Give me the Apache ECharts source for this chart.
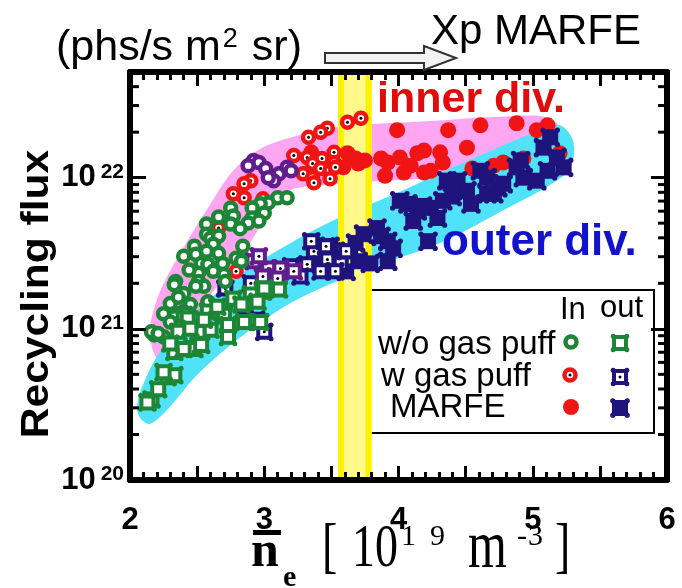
<!DOCTYPE html>
<html><head><meta charset="utf-8">
<script src="https://cdn.jsdelivr.net/npm/echarts@6/dist/echarts.min.js"></script>
<style>html,body{margin:0;padding:0;background:#fff}#c{width:682px;height:588px}</style>
</head><body><div id="c"></div>
<script>
// ---------- axes ----------
const X_MIN = 2, X_MAX = 6, Y_MIN = 1e20, Y_MAX = 5e22;
const xTickLabels = [2, 3, 4, 5, 6];
const yDecades = [1e20, 1e21, 1e22];
const yMinorMult = [2, 3, 4, 5, 6, 7, 8, 9];

// ---------- highlighted regions (outline in data coords) ----------
const pinkBand = [[2.201,6.41e20],[2.149,9.52e20],[2.194,1.50e21],[2.283,2.27e21],[2.432,3.87e21],[2.581,6.29e21],[2.760,1.09e22],[2.953,1.52e22],[3.229,1.88e22],[3.542,2.16e22],[4.235,2.37e22],[4.831,2.55e22],[5.091,2.52e22],[5.203,2.13e22],[5.188,1.52e22],[4.980,1.27e22],[4.607,1.09e22],[4.235,9.93e21],[3.542,9.07e21],[3.192,8.28e21],[3.058,6.59e21],[2.931,4.17e21],[2.782,2.64e21],[2.581,1.60e21],[2.410,9.82e20],[2.298,7.03e20]];
const cyanBand = [[2.052,2.90e20],[2.112,4.59e20],[2.261,7.81e20],[2.521,1.37e21],[2.782,2.17e21],[3.043,3.08e21],[3.490,5.09e21],[3.989,7.91e21],[4.480,1.25e22],[4.980,1.94e22],[5.188,2.23e22],[5.292,1.83e22],[5.300,1.31e22],[5.218,1.01e22],[4.756,5.92e21],[4.309,3.69e21],[3.788,2.52e21],[3.266,1.60e21],[2.894,9.82e20],[2.521,5.18e20],[2.261,2.82e20],[2.134,2.35e20]];
const xpMarfeBand = [3.55, 3.80];

// ---------- data ----------
const woPuffIn = [[3.10,7.36e21],[3.17,7.36e21],[3.03,6.81e21],[2.97,6.71e21],[2.75,6.31e21],[2.91,6.31e21],[3.00,5.84e21],[2.77,5.58e21],[2.91,5.41e21],[2.88,5.01e21],[2.96,5.17e21],[2.75,4.94e21],[2.57,4.94e21],[2.57,4.23e21],[2.60,3.98e21],[2.66,4.11e21],[2.48,3.52e21],[2.62,3.63e21],[2.57,3.26e21],[2.40,3.02e21],[2.49,3.11e21],[2.66,3.16e21],[2.84,3.52e21],[2.53,2.71e21],[2.58,2.67e21],[2.69,2.71e21],[2.79,2.93e21],[2.62,2.40e21],[2.51,2.33e21],[2.70,2.29e21],[2.34,2.06e21],[2.71,2.06e21],[2.51,2.06e21],[2.33,1.96e21],[2.30,1.47e21],[2.40,1.71e21],[2.45,1.45e21],[2.55,1.91e21],[2.58,1.51e21],[2.33,1.20e21],[2.40,1.30e21],[2.25,1.26e21],[2.18,9.12e20],[2.25,8.85e20],[2.30,1.11e21],[2.16,9.55e20],[2.49,1.91e21],[2.83,2.80e21],[2.44,2.45e21],[2.36,1.62e21],[2.21,9.3e20],[2.66,5.5e21],[2.82,4.6e21]];
const woPuffOut = [[2.99,1.76e21],[3.00,1.85e21],[2.77,1.58e21],[2.90,1.69e21],[2.83,1.45e21],[2.95,1.51e21],[2.58,1.30e21],[2.70,1.24e21],[2.40,1.24e21],[2.43,1.17e21],[2.60,9.85e20],[2.73,8.85e20],[2.85,1.11e21],[2.97,1.11e21],[2.33,7.03e20],[2.36,9.55e20],[2.48,7.36e20],[2.53,7.82e20],[2.28,4.79e20],[2.33,4.94e20],[2.25,5.17e20],[2.16,3.41e20],[2.13,3.26e20],[2.21,3.98e20],[2.73,1.06e21],[2.51,9.55e20],[2.40,7.36e20],[3.11,1.82e21],[2.65,1.40e21],[2.45,1.00e21],[2.30,8.0e20],[2.55,1.15e21]];
const puffIn = [[3.72,2.47e22],[3.62,2.33e22],[3.47,2.12e22],[3.42,2.00e22],[3.33,1.85e22],[3.22,1.40e22],[3.32,1.36e22],[3.52,1.47e22],[3.43,1.34e22],[3.36,1.24e22],[3.52,1.26e22],[3.29,1.06e22],[3.36,1.00e22],[3.42,1.15e22],[3.49,1.11e22],[3.37,9.26e21],[3.49,9.85e21],[2.90,9.55e21],[2.85,9.12e21],[2.77,7.82e21],[2.85,7.36e21],[2.99,7.24e21],[2.66,4.64e21],[2.79,2.40e21],[3.53,1.17e22]];
const puffInPurple = [[2.92,1.30e22],[2.96,1.26e22],[3.01,1.15e22],[3.11,1.06e22],[3.17,1.17e22],[3.20,1.11e22],[3.07,9.55e21],[3.03,1.00e22],[2.88,1.20e22]];
const puffOut = [[3.37,3.26e21],[3.32,2.67e21],[3.47,2.88e21],[3.42,2.40e21],[3.27,2.22e21],[3.57,2.71e21],[3.61,3.26e21],[3.53,2.40e21],[3.20,2.59e21],[3.00,9.55e20],[2.94,1.15e21],[2.86,1.40e21],[2.71,1.85e21],[2.90,2.00e21],[3.46,3.52e21],[3.35,3.80e21]];
const puffOutPurple = [[2.92,2.80e21],[3.03,2.51e21],[3.12,2.51e21],[3.22,2.40e21],[3.10,2.15e21],[2.96,3.02e21],[2.99,2.22e21]];
const marfeIn = [[3.99,2.06e22],[4.37,2.06e22],[4.61,2.22e22],[4.88,2.29e22],[5.11,2.22e22],[5.03,2.06e22],[3.35,1.47e22],[3.62,1.45e22],[3.68,1.34e22],[3.70,1.24e22],[3.87,1.34e22],[3.92,1.26e22],[4.01,1.36e22],[4.14,1.45e22],[4.19,1.51e22],[4.31,1.47e22],[4.33,1.26e22],[4.51,1.58e22],[3.90,1.03e22],[4.04,1.08e22],[4.19,1.08e22],[4.24,1.11e22],[3.59,1.17e22],[4.55,1.15e22],[4.71,1.20e22],[4.78,1.26e22],[4.93,1.34e22],[5.20,1.45e22],[3.75,1.30e22],[4.09,1.20e22]];
const marfeOut = [[3.64,3.26e21],[3.74,4.23e21],[3.70,2.80e21],[3.55,2.93e21],[3.84,4.64e21],[3.92,3.80e21],[3.96,3.41e21],[3.92,2.80e21],[4.01,7.03e21],[4.14,6.03e21],[4.24,6.31e21],[4.33,7.03e21],[4.36,9.55e21],[4.22,3.80e21],[4.54,6.71e21],[4.61,1.11e22],[4.66,1.00e22],[4.66,7.82e21],[4.74,8.58e21],[4.78,9.12e21],[4.88,1.17e22],[4.93,1.00e22],[5.08,1.58e22],[5.13,1.85e22],[5.18,1.36e22],[5.23,1.17e22],[5.11,1.11e22],[5.03,9.55e21],[4.07,6.71e21],[4.29,5.41e21],[4.11,5.17e21],[4.91,1.30e22],[4.44,9.55e21],[4.71,7.82e21],[4.51,8.19e21],[3.49,3.52e21],[3.61,2.40e21],[3.79,2.71e21],[3.42,3.02e21],[3.87,4.1e21],[4.18,6.5e21],[4.40,7.5e21],[3.68,3.7e21]];

// ---------- styling ----------
const GREEN = '#1d8636', RED = '#f01414', NAVY = '#1f147c', PURPLE = '#5f1e8c';
const SANS = 'Liberation Sans, Arial, sans-serif', SERIF = 'Liberation Serif, Times New Roman, serif';

function knobs(color, d, r) {
  return [[-d,-d],[d,-d],[-d,d],[d,d]].map(p => ({type:'circle', shape:{cx:p[0], cy:p[1], r:r}, style:{fill:color}}));
}
function ringShape(color) {
  return {type:'circle', shape:{cx:0, cy:0, r:5.5}, style:{fill:'#fff', stroke:color, lineWidth:4.5}};
}
function sqShape(color) {
  return {type:'rect', shape:{x:-6, y:-6, width:12, height:12}, style:{fill:'#fff', stroke:color, lineWidth:4}};
}
function shapes(kind, color) {
  const dot = {type:'circle', shape:{cx:0, cy:0, r:1.5}, style:{fill:'#000'}};
  switch (kind) {
    case 'ring': return [ringShape(color)];
    case 'ringDot': return [ringShape(color), dot];
    case 'disc': return [{type:'circle', shape:{cx:0, cy:0, r:8}, style:{fill:color}}];
    case 'sq': return knobs(color, 6.8, 2.5).concat([sqShape(color)]);
    case 'sqDot': return knobs(color, 6.8, 2.5).concat([sqShape(color), dot]);
    case 'sqFill': return knobs(color, 7.2, 2.6).concat([{type:'rect', shape:{x:-8, y:-8, width:16, height:16}, style:{fill:color}}]);
  }
}
function markerSeries(data, kind, color, z) {
  return {
    type:'custom', data:data, z:z, clip:true, encode:{x:0, y:1},
    renderItem:(params, api) => {
      const p = api.coord([api.value(0), api.value(1)]);
      return {type:'group', x:p[0], y:p[1], children:shapes(kind, color)};
    }
  };
}
function bandSeries(outline, color, z) {
  return {
    type:'custom', data:[[3, 1e21]], z:z, clip:true, encode:{x:0, y:1}, silent:true,
    renderItem:(params, api) => ({
      type:'polygon', shape:{points:outline.map(p => api.coord(p)), smooth:0.35},
      style:{fill:color}
    })
  };
}

const yMinorTicks = [];
yDecades.forEach(d => yMinorMult.forEach(m => { if (d*m < Y_MAX) yMinorTicks.push([X_MIN, d*m]); }));

const chart = echarts.init(document.getElementById('c'));
const axisLineStyle = {color:'#000', width:6};
const option = {
  animation:false,
  backgroundColor:'#fff',
  grid:{left:130, right:15, top:72, bottom:108},
  xAxis:[{
    type:'value', min:X_MIN, max:X_MAX, interval:0.5, z:10,
    axisLine:{show:true, onZero:false, lineStyle:axisLineStyle},
    axisTick:{show:true, inside:true, length:14, lineStyle:{color:'#000', width:3}},
    minorTick:{show:true, splitNumber:5, length:8, lineStyle:{color:'#000', width:3}},
    splitLine:{show:false},
    axisLabel:{margin:25, color:'#000', fontFamily:SANS, fontWeight:'bold', fontSize:31,
      formatter:v => (xTickLabels.indexOf(v) >= 0 ? String(v) : '')}
  },{
    type:'value', position:'top', min:X_MIN, max:X_MAX, interval:0.5, z:10,
    axisLine:{show:true, onZero:false, lineStyle:axisLineStyle},
    axisTick:{show:true, inside:true, length:14, lineStyle:{color:'#000', width:3}},
    minorTick:{show:true, splitNumber:5, length:8, lineStyle:{color:'#000', width:3}},
    splitLine:{show:false}, axisLabel:{show:false}
  }],
  yAxis:[{
    type:'log', logBase:10, min:Y_MIN, max:Y_MAX, z:10,
    axisLine:{show:true, onZero:false, lineStyle:axisLineStyle},
    axisTick:{show:true, inside:true, length:16, lineStyle:{color:'#000', width:3}},
    splitLine:{show:false},
    axisLabel:{margin:6, color:'#000',
      formatter:v => {
        const l = Math.log10(v), e = Math.round(l);
        if (Math.abs(l - e) > 1e-6) return '';
        return '{b|10}{s|' + e + '}';
      },
      rich:{
        b:{fontSize:31, fontWeight:'bold', fontFamily:SANS, color:'#000', lineHeight:32},
        s:{fontSize:21, fontWeight:'bold', fontFamily:SANS, color:'#000', lineHeight:32, verticalAlign:'top', padding:[0,0,0,5]}
      }
    }
  },{
    type:'log', logBase:10, min:Y_MIN, max:Y_MAX, position:'right', z:10,
    axisLine:{show:true, onZero:false, lineStyle:axisLineStyle},
    axisTick:{show:true, inside:true, length:16, lineStyle:{color:'#000', width:3}},
    splitLine:{show:false}, axisLabel:{show:false}
  }],
  series:[
    bandSeries(pinkBand, '#ffa6f3', 1),
    bandSeries(cyanBand, '#4fe2f8', 1),
    {
      type:'custom', data:[xpMarfeBand], z:2, clip:true, encode:{x:0, y:1}, silent:true,
      renderItem:(params, api) => {
        const a = api.coord([xpMarfeBand[0], Y_MAX]), b = api.coord([xpMarfeBand[1], Y_MIN]);
        const w = b[0] - a[0], h = b[1] - a[1];
        return {type:'group', children:[
          {type:'rect', shape:{x:a[0], y:a[1], width:w, height:h}, style:{fill:'#fff98a'}},
          {type:'rect', shape:{x:a[0], y:a[1], width:6, height:h}, style:{fill:'#fff200'}},
          {type:'rect', shape:{x:b[0]-6, y:a[1], width:6, height:h}, style:{fill:'#fff200'}}
        ]};
      }
    },
    markerSeries(marfeIn, 'disc', RED, 3),
    markerSeries(marfeOut, 'sqFill', NAVY, 4),
    markerSeries(puffIn, 'ringDot', RED, 5),
    markerSeries(puffInPurple, 'ring', PURPLE, 5),
    markerSeries(puffOut, 'sqDot', NAVY, 6),
    markerSeries(puffOutPurple, 'sqDot', PURPLE, 6),
    markerSeries(woPuffIn, 'ring', GREEN, 7),
    markerSeries(woPuffOut, 'sq', GREEN, 8),
    {
      type:'custom', data:yMinorTicks, z:9, clip:false, encode:{x:0, y:1}, silent:true,
      renderItem:(params, api) => {
        const l = api.coord([X_MIN, api.value(1)]), r = api.coord([X_MAX, api.value(1)]);
        return {type:'group', children:[
          {type:'line', shape:{x1:l[0], y1:l[1], x2:l[0]+9, y2:l[1]}, style:{stroke:'#000', lineWidth:3}},
          {type:'line', shape:{x1:r[0]-9, y1:r[1], x2:r[0], y2:r[1]}, style:{stroke:'#000', lineWidth:3}}
        ]};
      }
    }
  ],
  graphic:[
    // axis titles and annotations
    {type:'text', x:38, y:294, rotation:Math.PI/2, scaleX:1.12, z:50,
      style:{text:'Recycling flux', fontFamily:SANS, fontWeight:'bold', fontSize:38, fill:'#000', align:'center', verticalAlign:'middle'}},
    {type:'text', x:56, y:48, z:50,
      style:{text:'{a|(phs/s m}{s|2}{a| sr)}', verticalAlign:'middle',
        rich:{a:{fontFamily:SANS, fontSize:43, fill:'#000', lineHeight:46}, s:{fontFamily:SANS, fontSize:27, fill:'#000', lineHeight:46, verticalAlign:'top', padding:[1,2,0,2]}}}},
    {type:'text', x:431, y:32, z:50,
      style:{text:'Xp MARFE', fontFamily:SANS, fontSize:42, fill:'#000', verticalAlign:'middle'}},
    {type:'polygon', z:50, shape:{points:[[325,53],[424,53],[424,46],[456,58],[424,70],[424,63],[325,63]]},
      style:{fill:'#f2f2f2', stroke:'#333', lineWidth:2}},
    {type:'text', x:377, y:100, z:50,
      style:{text:'inner div.', fontFamily:SANS, fontWeight:'bold', fontSize:43, fill:'#e00c0c', verticalAlign:'middle'}},
    {type:'text', x:442, y:243, z:50,
      style:{text:'outer div.', fontFamily:SANS, fontWeight:'bold', fontSize:44, fill:'#1212cc', verticalAlign:'middle'}},
    // x axis title
    {type:'text', x:251, y:553, z:50,
      style:{text:'n', fontFamily:SERIF, fontWeight:'bold', fontSize:50, fill:'#000', verticalAlign:'middle'}},
    {type:'rect', z:50, shape:{x:253, y:530, width:28, height:5}, style:{fill:'#000'}},
    {type:'text', x:283, y:578, z:50,
      style:{text:'e', fontFamily:SERIF, fontWeight:'bold', fontSize:30, fill:'#000', verticalAlign:'middle'}},
    {type:'group', x:0, y:570, scaleY:1.35, z:50, children:[
      {type:'text', x:322, y:-15, style:{text:'[', fontFamily:SERIF, fontSize:46, fill:'#000', verticalAlign:'middle'}},
      {type:'text', x:352, y:-15, style:{text:'10', fontFamily:SERIF, fontSize:46, fill:'#000', verticalAlign:'middle'}},
      {type:'text', x:468, y:-15, style:{text:'m', fontFamily:SERIF, fontSize:50, fill:'#000', verticalAlign:'middle'}},
      {type:'text', x:555, y:-15, style:{text:']', fontFamily:SERIF, fontSize:46, fill:'#000', verticalAlign:'middle'}}
    ]},
    {type:'text', x:401, y:537, z:50, style:{text:'1', fontFamily:SERIF, fontSize:30, fill:'#000', verticalAlign:'middle'}},
    {type:'text', x:430, y:537, z:50, style:{text:'9', fontFamily:SERIF, fontSize:30, fill:'#000', verticalAlign:'middle'}},
    {type:'text', x:517, y:537, z:50, style:{text:'-', fontFamily:SERIF, fontSize:30, fill:'#000', verticalAlign:'middle'}},
    {type:'text', x:528, y:537, z:50, style:{text:'3', fontFamily:SERIF, fontSize:30, fill:'#000', verticalAlign:'middle'}},
    // legend
    {type:'group', z:100, children:[
      {type:'rect', shape:{x:367, y:290, width:287, height:143}, style:{fill:'#fff', stroke:'#000', lineWidth:2}},
      {type:'text', x:560, y:310, style:{text:'In', fontFamily:SANS, fontSize:31, fill:'#000', verticalAlign:'middle'}},
      {type:'text', x:600, y:308, style:{text:'out', fontFamily:SANS, fontSize:31, fill:'#000', verticalAlign:'middle'}},
      {type:'text', x:378, y:345, style:{text:'w/o gas puff', fontFamily:SANS, fontSize:33, fill:'#000', verticalAlign:'middle'}},
      {type:'text', x:381, y:377, style:{text:'w gas puff', fontFamily:SANS, fontSize:33, fill:'#000', verticalAlign:'middle'}},
      {type:'text', x:390, y:408, style:{text:'MARFE', fontFamily:SANS, fontSize:33, fill:'#000', verticalAlign:'middle'}},
      {type:'group', x:571, y:342, children:shapes('ring', GREEN)},
      {type:'group', x:620, y:343, children:shapes('sq', GREEN)},
      {type:'group', x:570, y:375, children:shapes('ringDot', RED)},
      {type:'group', x:620, y:377, children:shapes('sqDot', NAVY)},
      {type:'group', x:571, y:407, children:shapes('disc', RED)},
      {type:'group', x:620, y:408, children:shapes('sqFill', NAVY)}
    ]}
  ]
};
chart.setOption(option);
</script>
</body></html>
